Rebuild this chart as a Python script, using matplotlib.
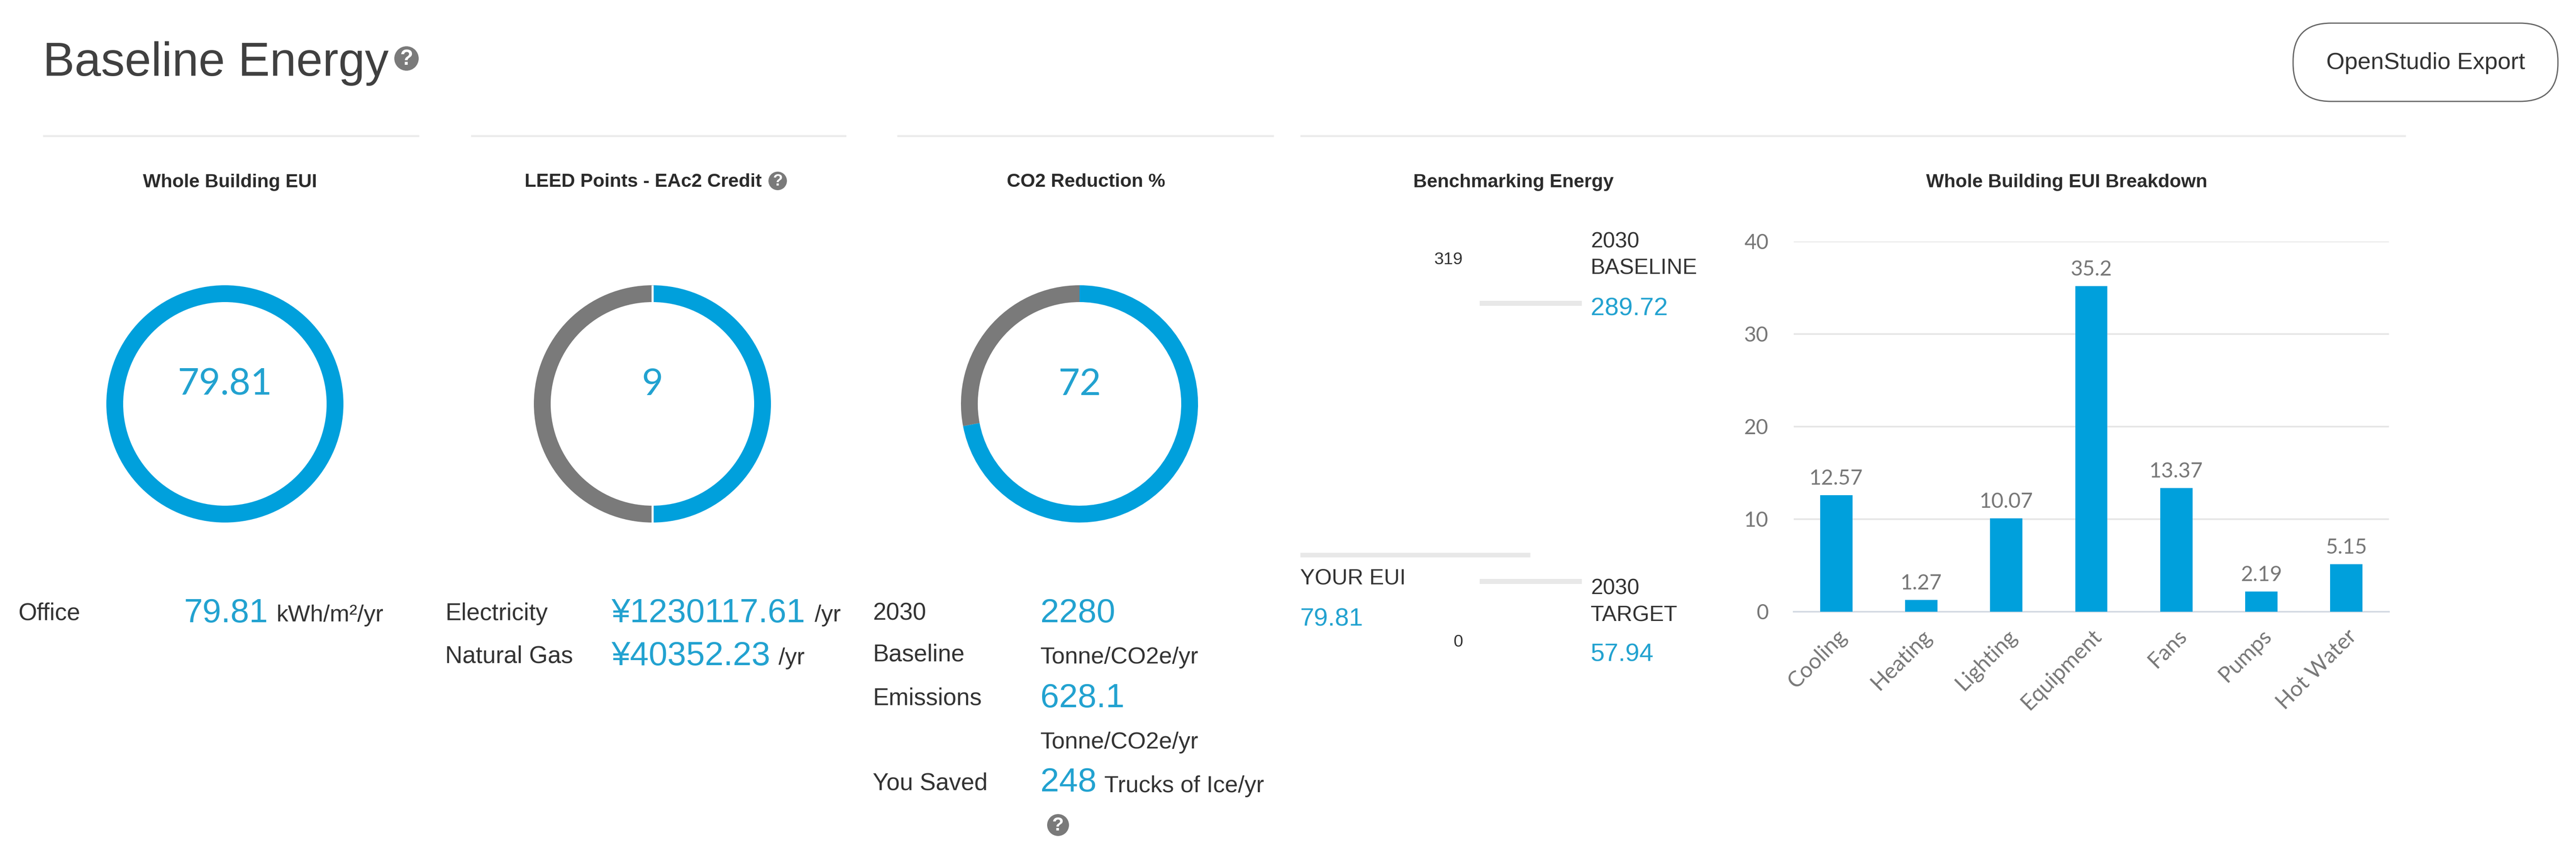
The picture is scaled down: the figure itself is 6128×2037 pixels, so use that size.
import matplotlib
matplotlib.use("Agg")
import matplotlib.pyplot as plt
from matplotlib.patches import Circle, FancyBboxPatch

W, H, DPI = 6128, 2037, 100
BLUE, GRAY, INK, NUM, RULE = "#00a0dc", "#7a7a7a", "#333333", "#22a2d0", "#e8e8e8"
SANS = ["Liberation Sans", "DejaVu Sans"]
THIN = ["Lato", "Open Sans", "DejaVu Sans"]

# Data
eui_value = 79.81
eui_ring = [100]
leed_points = 9
leed_ring = [50, 50]
co2_pct = 72
co2_ring = [72, 28]
bench_top, bench_bottom = 319, 0
bench_baseline = 289.72
bench_target = 57.94
bench_yours = 79.81
categories = ["Cooling", "Heating", "Lighting", "Equipment", "Fans", "Pumps", "Hot Water"]
eui_values = [12.57, 1.27, 10.07, 35.2, 13.37, 2.19, 5.15]
y_ticks = [0, 10, 20, 30, 40]

fig = plt.figure(figsize=(W / DPI, H / DPI), dpi=DPI, facecolor="white")
bg = fig.add_axes([0, 0, 1, 1])
bg.set_xlim(0, W)
bg.set_ylim(H, 0)
bg.axis("off")


def axes_px(left, top, right, bottom):
    return fig.add_axes([left / W, 1 - bottom / H, (right - left) / W, (bottom - top) / H])


def pt(px):
    return px * 72 / DPI


def label(x, y, s, px=57, color=INK, ha="left", family=SANS, **kw):
    bg.text(x, y + 5, s, fontsize=pt(px), color=color, ha=ha, va="center", family=family, **kw)


def help_icon(x, y, r):
    bg.add_patch(Circle((x, y), r, color=GRAY, lw=0))
    label(x, y - 4, "?", px=r * 1.75, color="white", ha="center", fontweight="bold")


# Header
label(102, 146, "Baseline Energy", px=113, color="#404040")
help_icon(967, 139, 29)
bg.add_patch(FancyBboxPatch((5545, 55 + 90), 450, 6, boxstyle="round,pad=90,rounding_size=90",
                            fc="white", ec="#666666", lw=pt(3)))
label(5770, 145, "OpenStudio Export", px=56, ha="center")

# Section rules
for a, b in [(102, 997), (1120, 2013), (2134, 3030), (3093, 5723)]:
    bg.plot([a, b], [323, 323], color="#ececec", lw=pt(5), solid_capstyle="butt")

# Section titles
for x, s in [(547, "Whole Building EUI"), (1530, "LEED Points - EAc2 Credit"),
             (2583, "CO2 Reduction %"), (3600, "Benchmarking Energy"),
             (4917, "Whole Building EUI Breakdown")]:
    label(x, 428, s, px=45, ha="center", fontweight="bold", color="#2b2b2b")
help_icon(1850, 430, 22)


# Rings
def ring(cx, values, colors, text, split=False):
    ax = axes_px(cx - 282, 960 - 282, cx + 282, 960 + 282)
    ax.pie(values, colors=colors, startangle=90, counterclock=False, radius=1.0,
           wedgeprops={"width": 40 / 282, "linewidth": 0})
    ax.set_xlim(-1, 1)
    ax.set_ylim(-1, 1)
    if split:
        ax.vlines(0, 0.8, 1, color="white", lw=pt(5))
        ax.vlines(0, -1, -0.8, color="white", lw=pt(5))
    ax.text(0, 0.163, str(text), fontsize=pt(88), color=NUM, ha="center", va="center", family=THIN)


ring(535, eui_ring, [BLUE], eui_value)
ring(1552, leed_ring, [BLUE, GRAY], leed_points, split=True)
ring(2568, co2_ring, [BLUE, GRAY], co2_pct)

# Left text blocks
label(43, 1454, "Office")
label(438, 1454, "79.81", px=80, color=NUM)
label(657, 1458, "kWh/m²/yr", px=56)

label(1059, 1454, "Electricity")
label(1454, 1454, "¥1230117.61", px=80, color=NUM)
label(1938, 1458, "/yr", px=56)
label(1059, 1556, "Natural Gas")
label(1454, 1556, "¥40352.23", px=80, color=NUM)
label(1852, 1560, "/yr", px=56)

label(2076, 1453, "2030")
label(2475, 1453, "2280", px=80, color=NUM)
label(2076, 1551, "Baseline")
label(2475, 1558, "Tonne/CO2e/yr", px=56)
label(2076, 1655, "Emissions")
label(2475, 1655, "628.1", px=80, color=NUM)
label(2475, 1760, "Tonne/CO2e/yr", px=56)
label(2076, 1857, "You Saved")
label(2475, 1855, "248", px=80, color=NUM)
label(2627, 1864, "Trucks of Ice/yr", px=56)
help_icon(2517, 1961, 26)

# Benchmarking Energy scale
bm = axes_px(3093, 637, 3763, 1547)
bm.set_xlim(3093, 3763)
bm.set_ylim(bench_bottom, bench_top)
bm.axis("off")
for v in (bench_baseline, bench_target):
    bm.hlines(v, 3520, 3763, color=RULE, lw=pt(12))
bm.hlines(bench_yours, 3093, 3640, color=RULE, lw=pt(11))
label(3480, 612, str(bench_top), px=41, ha="right")
label(3480, 1521, str(bench_bottom), px=41, ha="right")
label(3784, 570, "2030", px=52)
label(3784, 633, "BASELINE", px=52)
label(3784, 729, f"{bench_baseline}", px=60, color=NUM)
label(3784, 1394, "2030", px=52)
label(3784, 1458, "TARGET", px=52)
label(3784, 1551, f"{bench_target}", px=60, color=NUM)
label(3093, 1371, "YOUR EUI", px=52)
label(3093, 1467, f"{bench_yours}", px=60, color=NUM)

# Whole Building EUI Breakdown
ax = axes_px(4267, 574, 5683, 1454)
ax.bar(range(len(categories)), eui_values, width=0.38, color=BLUE, zorder=3)
ax.set_xlim(-0.5, len(categories) - 0.5)
ax.set_ylim(0, 40)
ax.set_yticks(y_ticks)
ax.set_xticks(range(len(categories)))
ax.set_xticklabels(categories, rotation=45, ha="right", rotation_mode="anchor",
                   fontsize=pt(52), color="#777777", family=THIN)
ax.tick_params(axis="x", length=0, pad=pt(34))
ax.tick_params(axis="y", length=0, pad=pt(60), labelsize=pt(50), labelcolor="#777777")
for t in ax.get_yticklabels():
    t.set_family(THIN)
ax.grid(axis="y", color="#e6e6e6", lw=pt(4), zorder=0)
ax.set_axisbelow(True)
for s in ("top", "right", "left"):
    ax.spines[s].set_visible(False)
ax.spines["bottom"].set_color("#d5dbe3")
ax.spines["bottom"].set_linewidth(pt(4))
ax.patch.set_alpha(0)
for i, v in enumerate(eui_values):
    ax.annotate(str(v), (i, v), xytext=(0, pt(16)), textcoords="offset points", ha="center", va="bottom",
                fontsize=pt(50), color="#777777", family=THIN)

fig.savefig("out.png", dpi=DPI, facecolor="white")
